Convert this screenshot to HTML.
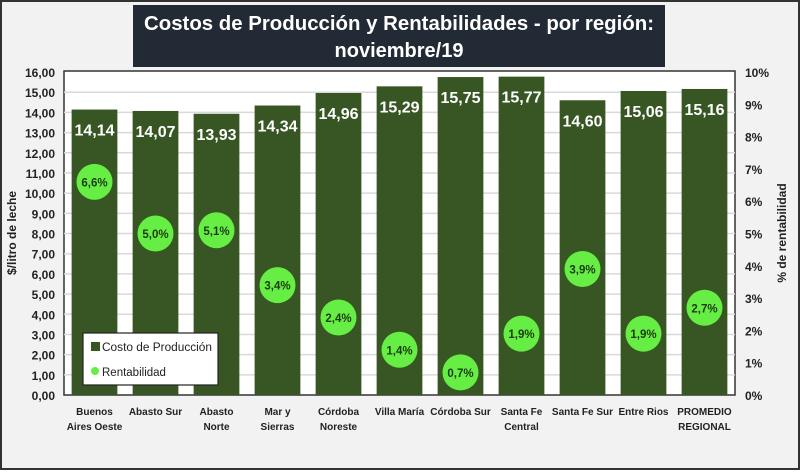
<!DOCTYPE html>
<html><head><meta charset="utf-8"><style>
body{margin:0;width:800px;height:470px;overflow:hidden;background:#fff;font-family:"Liberation Sans",sans-serif}
</style></head><body>
<svg width="800" height="470" xmlns="http://www.w3.org/2000/svg">
<rect x="1" y="1" width="798" height="468" fill="#f2f2f2" stroke="#333" stroke-width="2"/>
<rect x="133" y="5" width="532" height="62" fill="#222b35"/>
<text x="399" y="30" text-anchor="middle" fill="#fff" font-size="20" font-weight="bold" textLength="510" lengthAdjust="spacingAndGlyphs">Costos de Producción y Rentabilidades - por región:</text>
<text x="399" y="57" text-anchor="middle" fill="#fff" font-size="20" font-weight="bold">noviembre/19</text>
<rect x="64" y="71" width="671" height="324" fill="#fff" stroke="#333" stroke-width="1.5"/>
<g id="grid"></g><g id="bars"></g><g id="axes"></g>
<text transform="translate(16,233) rotate(-90)" text-anchor="middle" font-size="12" font-weight="bold" fill="#222">$/litro de leche</text>
<text transform="translate(786,233) rotate(-90)" text-anchor="middle" font-size="12" font-weight="bold" fill="#222">% de rentabilidad</text>
<g>
<rect x="83" y="333" width="135" height="52" fill="#fff" stroke="#222" stroke-width="1.2"/>
<rect x="91" y="342" width="9" height="9" fill="#375623"/>
<text x="102" y="351" font-size="11.5" fill="#222" textLength="110" lengthAdjust="spacingAndGlyphs">Costo de Producción</text>
<circle cx="95" cy="371" r="4" fill="#66ee44"/>
<text x="102" y="376" font-size="11.5" fill="#222">Rentabilidad</text>
</g>
</svg>
<script>
const categories=[["Buenos","Aires Oeste"],["Abasto Sur"],["Abasto","Norte"],["Mar y","Sierras"],["Córdoba","Noreste"],["Villa María"],["Córdoba Sur"],["Santa Fe","Central"],["Santa Fe Sur"],["Entre Rios"],["PROMEDIO","REGIONAL"]];
const costs=[14.14,14.07,13.93,14.34,14.96,15.29,15.75,15.77,14.60,15.06,15.16];
const rent=[6.6,5.0,5.1,3.4,2.4,1.4,0.7,1.9,3.9,1.9,2.7];
const yTicks=[0,1,2,3,4,5,6,7,8,9,10,11,12,13,14,15,16];
const y2Ticks=[0,1,2,3,4,5,6,7,8,9,10];
const NS="http://www.w3.org/2000/svg";
const X0=64,X1=735,Y0=395,Y1=72;
const y=v=>Y0-(v/16)*(Y0-Y1);
const y2=v=>Y0-(v/10)*(Y0-Y1);
const bw=(X1-X0)/categories.length;
const xc=i=>X0+bw*(i+0.5);
const fmt=(v,d)=>v.toFixed(d).replace('.',',');
function mk(tag,attrs,parent,txt){const e=document.createElementNS(NS,tag);for(const k in attrs)e.setAttribute(k,attrs[k]);if(txt!==undefined)e.textContent=txt;parent.appendChild(e);return e;}
const grid=document.getElementById('grid'),bars=document.getElementById('bars'),axes=document.getElementById('axes');
yTicks.forEach(t=>{
  if(t>0&&t<16){const l=mk('line',{x1:X0,x2:X1,y1:y(t),y2:y(t),stroke:'#d9d9d9','stroke-width':1.5},grid);
  
  }
  const tx=mk('text',{x:55,y:y(t)+5,'text-anchor':'end','font-size':12,'font-weight':'bold',fill:'#222'},axes,fmt(t,2));
  
  
});
y2Ticks.forEach(t=>{
  const tx=mk('text',{x:745,y:y2(t)+5,'text-anchor':'start','font-size':12,'font-weight':'bold',fill:'#222'},axes,t+'%');
  
  
});
costs.forEach((v,i)=>{
  const w=bw*0.75;
  const r=mk('rect',{x:xc(i)-w/2,y:y(v),width:w,height:Y0-y(v),fill:'#375623'},bars);
  
  
  const t=mk('text',{x:xc(i),y:y(v)+26,'text-anchor':'middle','font-size':16,'font-weight':'bold',fill:'#fff'},bars,fmt(v,2));
  
  
  const c=mk('circle',{cx:xc(i),cy:y2(rent[i]),r:18,fill:'#66ee44'},bars);
  
  
  const ct=mk('text',{x:xc(i),y:y2(rent[i])+4.5,'text-anchor':'middle','font-size':11.5,'font-weight':'bold',fill:'#1e3a10'},bars,fmt(rent[i],1)+'%');
  
  
  categories[i].forEach((s,j)=>{
    const ctx=mk('text',{x:xc(i),y:415+j*15,'text-anchor':'middle','font-size':10,'font-weight':'bold',fill:'#222'},axes,s);
    
    
  });
});
</script>
</body></html>
